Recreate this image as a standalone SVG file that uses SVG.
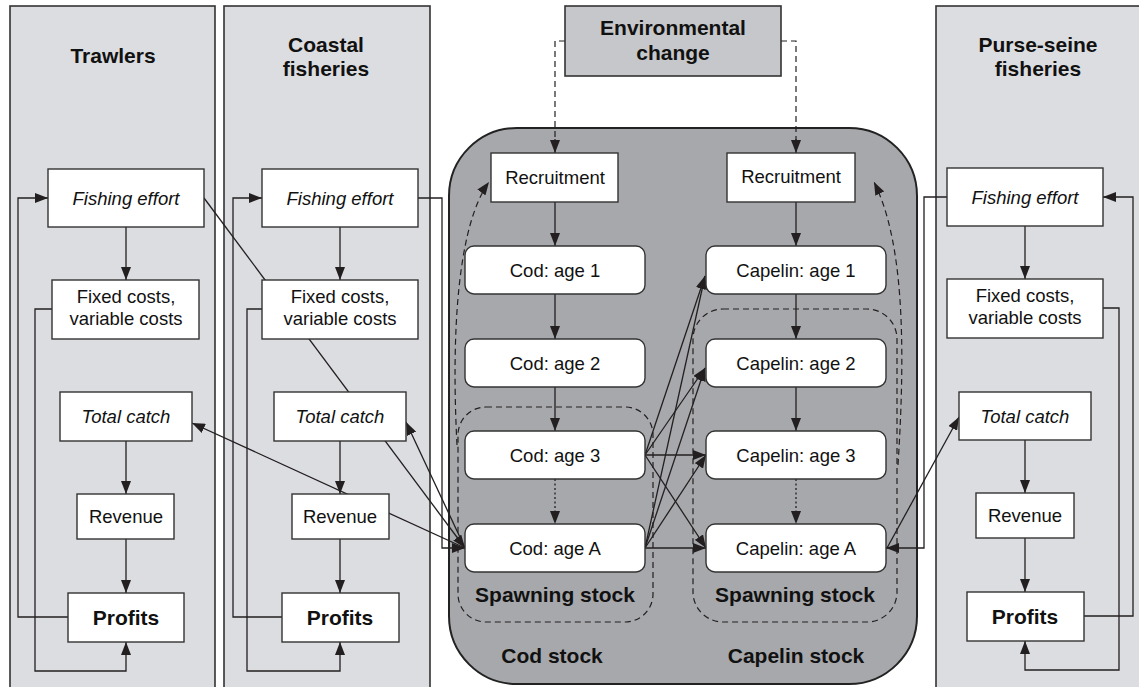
<svg xmlns="http://www.w3.org/2000/svg" width="1139" height="687" viewBox="0 0 1139 687">
<defs>
<marker id="ah" markerUnits="userSpaceOnUse" markerWidth="13" markerHeight="10" refX="13" refY="5" orient="auto">
<path d="M0,0 L13,5 L0,10 z" fill="#231f20"/>
</marker>
<style>
.panel{fill:#dcdde0;stroke:#333;stroke-width:1.6}
.box{fill:#fff;stroke:#333;stroke-width:1.4}
.ln{fill:none;stroke:#231f20;stroke-width:1.3}
.arr{fill:none;stroke:#231f20;stroke-width:1.3;marker-end:url(#ah)}
.dash{fill:none;stroke:#231f20;stroke-width:1.2;stroke-dasharray:6,4}
.dot{stroke-dasharray:2,2.5}
.t{font-family:"Liberation Sans",Arial,sans-serif;font-size:18.5px;fill:#111;text-anchor:middle}
.i{font-style:italic}
.b{font-family:"Liberation Sans",Arial,sans-serif;font-size:21px;font-weight:bold;fill:#111;text-anchor:middle}
</style>
</defs>

<g id="panels">
<rect class="panel" x="10" y="6" width="205" height="700"/>
<rect class="panel" x="224" y="6" width="206" height="700"/>
<rect class="panel" x="936" y="6" width="215" height="700"/>
<text class="b" x="113" y="63">Trawlers</text>
<text class="b" x="326" y="52">Coastal</text>
<text class="b" x="326" y="76">fisheries</text>
<text class="b" x="1038" y="52">Purse-seine</text>
<text class="b" x="1038" y="76">fisheries</text>
</g>

<g id="stocks">
<rect x="449" y="128" width="468" height="556" rx="68" fill="#a7a8ab" stroke="#222" stroke-width="2"/>
<rect class="dash" x="458" y="407" width="195" height="215" rx="28"/>
<rect class="dash" x="693" y="309" width="204" height="313" rx="30"/>
<text class="b" x="555" y="602">Spawning stock</text>
<text class="b" x="795" y="602">Spawning stock</text>
<text class="b" x="552" y="663">Cod stock</text>
<text class="b" x="796" y="663">Capelin stock</text>
</g>

<g id="connectors">
<!-- trawlers -->
<path class="arr" d="M126 227 V280"/>
<path class="arr" d="M126 441 V494"/>
<path class="arr" d="M126 539 V593"/>
<path class="arr" d="M68 617 H18 V198 H48"/>
<path class="arr" d="M52 309 H35 V671 H126 V642"/>
<!-- coastal -->
<path class="arr" d="M340 227 V280"/>
<path class="arr" d="M340 441 V494"/>
<path class="arr" d="M340 539 V593"/>
<path class="arr" d="M282 617 H233 V198 H262"/>
<path class="arr" d="M262 309 H247 V671 H340 V642"/>
<!-- purse-seine -->
<path class="arr" d="M1025 226 V279"/>
<path class="arr" d="M1025 440 V493"/>
<path class="arr" d="M1025 538 V592"/>
<path class="arr" d="M1084 616 H1133 V197 H1103"/>
<path class="arr" d="M1103 308 H1119 V670 H1025 V641"/>
<!-- fisheries to stocks -->
<path class="arr" d="M204 198 L465 548"/>
<path class="arr" d="M465 548 L192 423"/>
<path class="arr" d="M418 198 H442 V548 H465"/>
<path class="arr" d="M465 548 L406 422"/>
<path class="arr" d="M947 197 H924 V548 H886"/>
<path class="arr" d="M887 548 L959 417"/>
<!-- environmental -->
<path class="dash" d="M565 41 H555 V140"/>
<path class="arr" d="M555 139 V153"/>
<path class="dash" d="M781 41 H796 V140"/>
<path class="arr" d="M796 139 V153"/>
<!-- cod chain -->
<path class="arr" d="M555 202 V246"/>
<path class="arr" d="M555 294 V339"/>
<path class="arr" d="M555 387 V431"/>
<path class="arr dot" d="M555 479 V524"/>
<!-- capelin chain -->
<path class="arr" d="M796 202 V246"/>
<path class="arr" d="M796 294 V339"/>
<path class="arr" d="M796 387 V431"/>
<path class="arr dot" d="M796 479 V524"/>
<!-- recruitment feedback -->
<path class="dash" d="M457 445 C451 330 458 225 489 182" marker-end="url(#ah)"/>
<path class="dash" d="M898 465 C906 340 903 240 874 182" marker-end="url(#ah)"/>
<!-- predation links -->
<path class="arr" d="M645 455 L705 276"/>
<path class="arr" d="M645 455 L705 368"/>
<path class="arr" d="M645 455 H706"/>
<path class="arr" d="M645 455 L706 548"/>
<path class="arr" d="M645 548 L705 276"/>
<path class="arr" d="M645 548 L705 368"/>
<path class="arr" d="M645 548 L706 455"/>
<path class="arr" d="M645 548 H706"/>
</g>

<g id="env">
<rect x="565" y="6" width="216" height="70" fill="#c6c7ca" stroke="#333" stroke-width="1.6"/>
<text class="b" x="673" y="35">Environmental</text>
<text class="b" x="673" y="60">change</text>
</g>

<g id="trawlers-nodes">
<g id="t-effort"><rect class="box" x="48" y="169" width="156" height="58"/><text class="t i" x="126" y="204.5">Fishing effort</text></g>
<g id="t-costs"><rect class="box" x="52" y="280" width="147" height="59"/><text class="t" x="126" y="303">Fixed costs,</text><text class="t" x="126" y="325">variable costs</text></g>
<g id="t-catch"><rect class="box" x="60" y="392" width="132" height="49"/><text class="t i" x="126" y="423">Total catch</text></g>
<g id="t-rev"><rect class="box" x="77" y="494" width="97" height="45"/><text class="t" x="126" y="523">Revenue</text></g>
<g id="t-prof"><rect class="box" x="68" y="593" width="116" height="49"/><text class="b" x="126" y="625">Profits</text></g>
</g>

<g id="coastal-nodes">
<g id="c-effort"><rect class="box" x="262" y="169" width="156" height="58"/><text class="t i" x="340" y="204.5">Fishing effort</text></g>
<g id="c-costs"><rect class="box" x="262" y="280" width="156" height="59"/><text class="t" x="340" y="303">Fixed costs,</text><text class="t" x="340" y="325">variable costs</text></g>
<g id="c-catch"><rect class="box" x="274" y="392" width="132" height="49"/><text class="t i" x="340" y="423">Total catch</text></g>
<g id="c-rev"><rect class="box" x="292" y="494" width="97" height="45"/><text class="t" x="340" y="523">Revenue</text></g>
<g id="c-prof"><rect class="box" x="282" y="593" width="117" height="49"/><text class="b" x="340" y="625">Profits</text></g>
</g>

<g id="purse-nodes">
<g id="p-effort"><rect class="box" x="947" y="168" width="156" height="58"/><text class="t i" x="1025" y="203.5">Fishing effort</text></g>
<g id="p-costs"><rect class="box" x="947" y="279" width="156" height="59"/><text class="t" x="1025" y="302">Fixed costs,</text><text class="t" x="1025" y="324">variable costs</text></g>
<g id="p-catch"><rect class="box" x="959" y="392" width="132" height="48"/><text class="t i" x="1025" y="422.5">Total catch</text></g>
<g id="p-rev"><rect class="box" x="976" y="493" width="98" height="45"/><text class="t" x="1025" y="522">Revenue</text></g>
<g id="p-prof"><rect class="box" x="967" y="592" width="117" height="49"/><text class="b" x="1025" y="624">Profits</text></g>
</g>

<g id="cod-nodes">
<g id="cod-rec"><rect class="box" x="491" y="153" width="127" height="49"/><text class="t" x="555" y="184">Recruitment</text></g>
<g id="cod-1"><rect class="box" x="465" y="246" width="180" height="48" rx="9"/><text class="t" x="555" y="276.5">Cod: age 1</text></g>
<g id="cod-2"><rect class="box" x="465" y="339" width="180" height="48" rx="9"/><text class="t" x="555" y="369.5">Cod: age 2</text></g>
<g id="cod-3"><rect class="box" x="465" y="431" width="180" height="48" rx="9"/><text class="t" x="555" y="461.5">Cod: age 3</text></g>
<g id="cod-a"><rect class="box" x="465" y="524" width="180" height="48" rx="9"/><text class="t" x="555" y="554.5">Cod: age A</text></g>
</g>

<g id="capelin-nodes">
<g id="cap-rec"><rect class="box" x="727" y="153" width="128" height="49"/><text class="t" x="791" y="183">Recruitment</text></g>
<g id="cap-1"><rect class="box" x="706" y="246" width="180" height="48" rx="9"/><text class="t" x="796" y="276.5">Capelin: age 1</text></g>
<g id="cap-2"><rect class="box" x="706" y="339" width="180" height="48" rx="9"/><text class="t" x="796" y="369.5">Capelin: age 2</text></g>
<g id="cap-3"><rect class="box" x="706" y="431" width="180" height="48" rx="9"/><text class="t" x="796" y="461.5">Capelin: age 3</text></g>
<g id="cap-a"><rect class="box" x="706" y="524" width="180" height="48" rx="9"/><text class="t" x="796" y="554.5">Capelin: age A</text></g>
</g>
</svg>
